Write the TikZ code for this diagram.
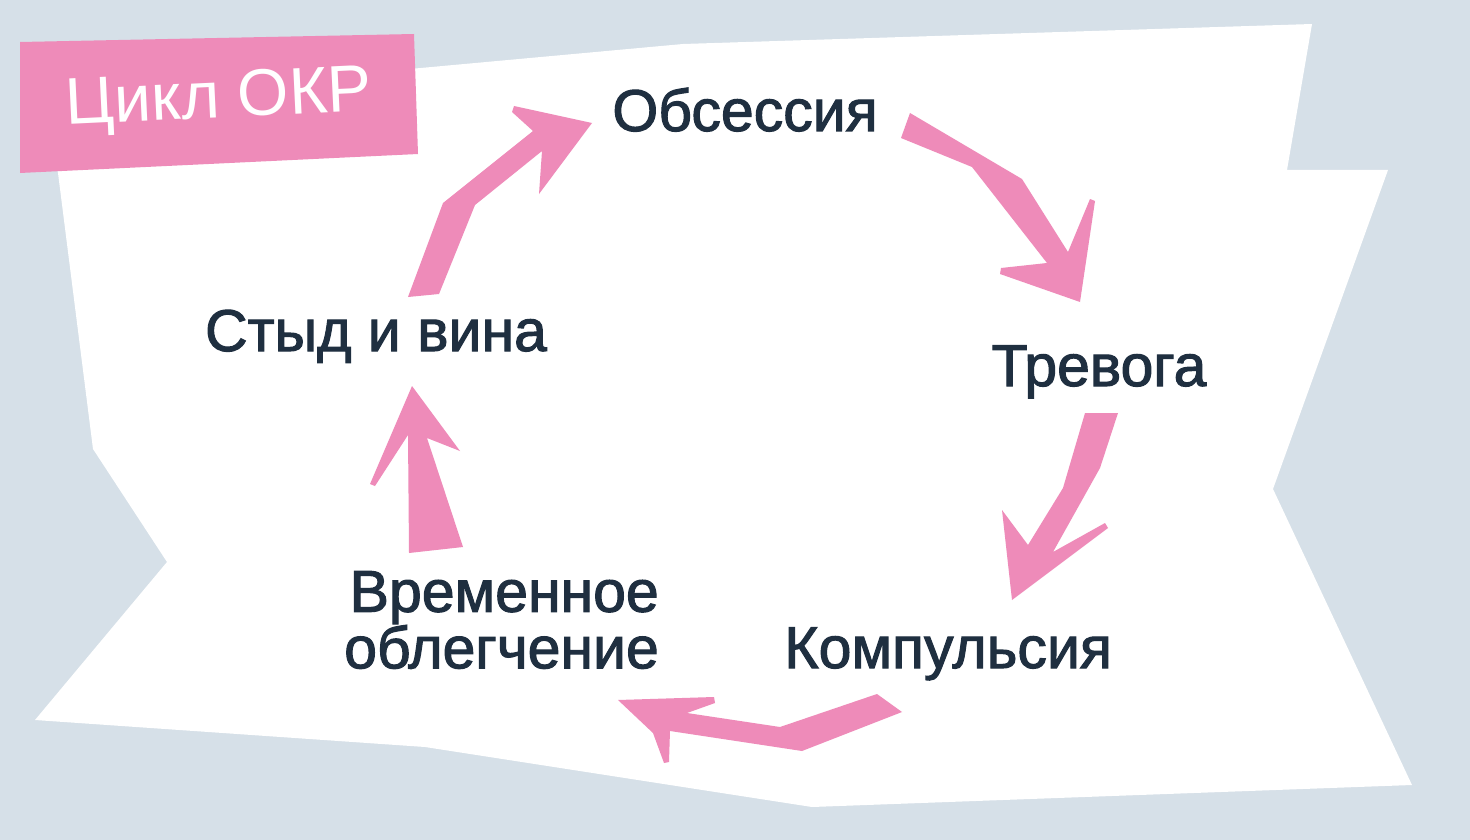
\documentclass[tikz,border=0pt]{standalone}
\usepackage{fontspec}
\setmainfont{Liberation Sans}
\newfontfamily\labfont[FakeBold=1.8]{Liberation Sans}
\newfontfamily\titlefont{Liberation Sans}
\definecolor{bgc}{RGB}{214,224,232}
\definecolor{pinkc}{RGB}{238,139,185}
\definecolor{navy}{RGB}{31,47,64}
\tikzset{
  lab/.style={inner sep=0pt, text=navy, font=\labfont\fontsize{59}{53}\selectfont},
  arr/.style={fill=pinkc, draw=none},
}
\begin{document}
\begin{tikzpicture}[x=1pt,y=-1pt]
\useasboundingbox (0,0) rectangle (1470,840);
\fill[bgc] (0,0) rectangle (1470,840);
% white sheet
\fill[white] (49,102) -- (683,44) -- (1312,24) -- (1287,170) -- (1388,170) -- (1273,489) -- (1412,785) -- (812,807) -- (425,747) -- (35,720) -- (167,562) -- (93,449) -- cycle;
% title box
\fill[pinkc] (20,42) -- (414,34) -- (418,154) -- (20,173) -- cycle;
\node[inner sep=0pt, text=white, rotate=2.7, font=\titlefont\fontsize{66}{70}\selectfont] (title) at (219,101) {Цикл ОКР};
% labels
\node[lab, anchor=base] (obs) at (745,131) {Обсессия};
\node[lab, anchor=base] (trev) at (1099,386) {Тревога};
\node[lab, anchor=base] (komp) at (948,668) {Компульсия};
\node[lab, anchor=east, align=right] (vrem) at (659,620) {Временное\\облегчение};
\node[lab, anchor=base] (styd) at (376,351) {Стыд и вина};
% arrows
\fill[arr] (408,297) -- (443,203) -- (533,131) -- (512,112) -- (514,106) -- (592,123) -- (539,194) -- (542,151) -- (475,205) -- (439,294) -- cycle;
\fill[arr] (910,113) -- (1022,179) -- (1068,252) -- (1090,199) -- (1095,201) -- (1080,302) -- (1000,274) -- (1001,268) -- (1047,263) -- (972,167) -- (901,138) -- cycle;
\fill[arr] (1085,413) -- (1118,413) -- (1100,468) -- (1053,552) -- (1105,523) -- (1108,528) -- (1012,600) -- (1002,510) -- (1028,545) -- (1063,488) -- cycle;
\fill[arr] (877,694) -- (902,712) -- (802,751) -- (670,731) -- (669,762) -- (664,763) -- (653,733) -- (618,700) -- (714,697) -- (715,703) -- (687,713) -- (780,727) -- cycle;
\fill[arr] (409,553) -- (463,547) -- (427,438) -- (460,451) -- (412,386) -- (370,484) -- (375,486) -- (408,435) -- cycle;
\end{tikzpicture}
\end{document}
